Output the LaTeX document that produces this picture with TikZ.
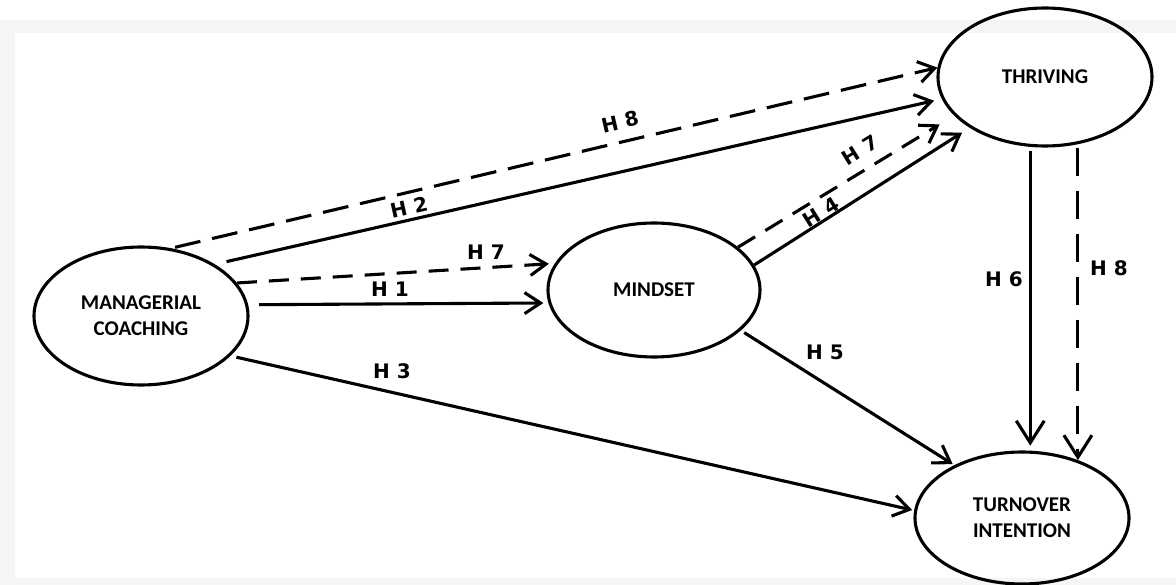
\documentclass[tikz,border=0pt]{standalone}
\usepackage{fontspec}
\setmainfont{Carlito}
\newfontfamily\labfont{DejaVu Sans}
\usetikzlibrary{arrows.meta,shapes.geometric}
\begin{document}
\begin{tikzpicture}[x=1pt,y=-1pt,
  var/.style={ellipse, draw, line width=3.1pt, inner sep=0pt, align=center,
    font=\bfseries\fontsize{21}{26}\selectfont},
  lab/.style={font=\labfont\bfseries\fontsize{20}{22}\selectfont, inner sep=0pt},
  arr/.style={line width=3.1pt, -{Straight Barb[length=16pt,width=21pt,line width=3.1pt]}},
  arrv/.style={line width=3.1pt, -{Straight Barb[length=22pt,width=28pt,line width=3.1pt]}},
  dsh/.style={arr, dash pattern=on 26pt off 12pt},
  dshs/.style={arr, dash pattern=on 20pt off 12pt},
  dshv/.style={arrv, dash pattern=on 28pt off 15pt},
]
\useasboundingbox (0,0) rectangle (1176,585);
\fill[white] (0,0) rectangle (1176,585);
\fill[black!4] (0,20) rectangle (1176,585);
\fill[white] (15,33) rectangle (1176,578);

% variables
\node[var, minimum width=214pt, minimum height=138pt] (mc) at (141,316) {MANAGERIAL\\COACHING};
\node[var, minimum width=212pt, minimum height=134pt] (mind) at (654,290) {MINDSET};
\node[var, minimum width=214pt, minimum height=138pt] (th) at (1045,77) {THRIVING};
\node[var, minimum width=214pt, minimum height=132pt] (tu) at (1022,518) {TURNOVER\\INTENTION};

% connectors
\draw[dsh, shorten <=4pt] (mc.66) -- (th.175);                 % H8
\draw[arr, shorten <=12pt, shorten >=8pt] (mc.35) -- (th.192); % H2
\draw[dshs, shorten >=6pt] (mc.19) -- (mind.165);              % H7
\draw[arr, shorten <=11pt, shorten >=5pt] (mc.6) -- (mind.187);% H1
\draw[arr, shorten <=6pt, shorten >=2pt] (mc.-24) -- (tu.176); % H3
\draw[dshs, shorten >=17pt] (mind.27) -- (th.203);             % H7
\draw[arr, shorten >=9pt] (mind.14) -- (th.214);               % H4
\draw[arr, shorten <=4pt, shorten >=2pt] (mind.-25) -- (tu.142);% H5
\draw[arrv, shorten <=3pt, shorten >=5pt] (tu.83 |- th.south) -- (tu.83); % H6
\draw[dshv] (tu.46 |- th.south) -- (tu.46);                    % H8

% labels
\node[lab, rotate=13] (l8a) at (620,122) {H 8};
\node[lab, rotate=12.5] (l2) at (409,207) {H 2};
\node[lab] (l7a) at (486,252) {H 7};
\node[lab] (l1) at (390,289) {H 1};
\node[lab] (l3) at (392,371) {H 3};
\node[lab, rotate=32] (l7b) at (860,150) {H 7};
\node[lab, rotate=32] (l4) at (821,212) {H 4};
\node[lab] (l5) at (825,352) {H 5};
\node[lab] (l6) at (1004,279) {H 6};
\node[lab] (l8b) at (1109,268) {H 8};
\end{tikzpicture}
\end{document}
